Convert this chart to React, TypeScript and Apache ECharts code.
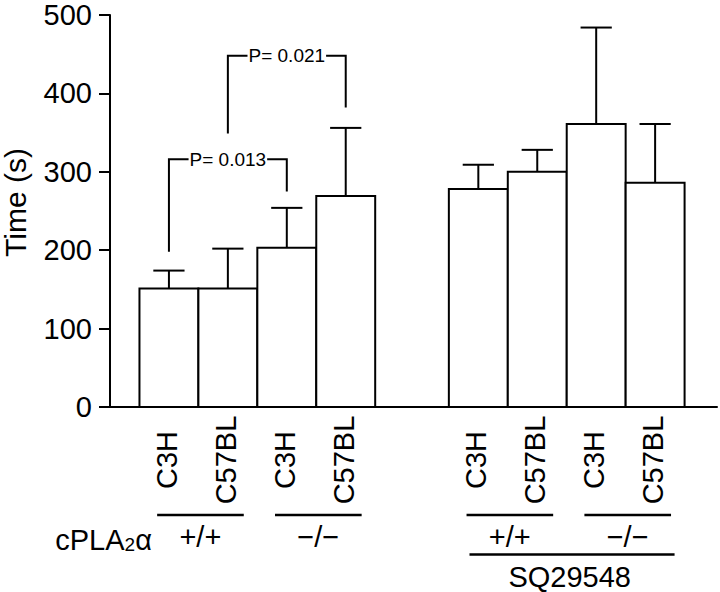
import React, { useEffect, useRef } from 'react';
import * as echarts from 'echarts';

// ---- data ----
const categories = ['C3H', 'C57BL', 'C3H', 'C57BL', 'C3H', 'C57BL', 'C3H', 'C57BL'];
const meanTime = [151, 151, 203, 269, 278, 300, 361, 286];
const errorTop = [174, 202, 254, 356, 309, 328, 484, 361];
const yTicks = [0, 100, 200, 300, 400, 500];
const genotypeGroups = [
  { label: '+/+', first: 0, last: 1 },
  { label: '\u2212/\u2212', first: 2, last: 3 },
  { label: '+/+', first: 4, last: 5 },
  { label: '\u2212/\u2212', first: 6, last: 7 },
];
const treatmentGroups = [{ label: 'SQ29548', first: 4, last: 7 }];
const comparisons = [
  { from: 0, to: 2, fromEnd: 198, toEnd: 275, top: 316, text: 'P= 0.013' },
  { from: 1, to: 3, fromEnd: 349, toEnd: 382, top: 448, text: 'P= 0.021' },
];

// slot positions along the x value axis (second block separated by a gap)
const GROUP_GAP = 1.25;
const slotPos = categories.map((_, i) => i + 1 + (i >= 4 ? GROUP_GAP : 0));

const FONT = '"Liberation Sans", Arial, Helvetica, sans-serif';

export default function App() {
  const ref = useRef<HTMLDivElement>(null);
  useEffect(() => {
    if (!ref.current) return;
    const chart = echarts.init(ref.current, undefined, { renderer: 'svg' });
    const black = '#000';
    const option: any = {
      animation: false,
      backgroundColor: '#fff',
      grid: { left: 110, right: 3, top: 15, bottom: 185, containLabel: false, outerBoundsMode: 'none' },
      xAxis: {
        type: 'value',
        min: 0,
        max: 10.3,
        axisLine: { show: true, lineStyle: { color: black, width: 2 } },
        axisTick: { show: false },
        axisLabel: { show: false },
        splitLine: { show: false },
      },
      yAxis: {
        type: 'value',
        min: yTicks[0],
        max: yTicks[yTicks.length - 1],
        interval: 100,
        name: 'Time (s)',
        nameLocation: 'middle',
        nameRotate: 90,
        nameGap: 80,
        nameTextStyle: { fontSize: 30, color: black, fontFamily: FONT, padding: [0, 0, 0, 17] },
        axisLine: { show: true, lineStyle: { color: black, width: 2 } },
        axisTick: { show: true, length: 11, lineStyle: { color: black, width: 2 } },
        axisLabel: { fontSize: 29, color: black, fontFamily: FONT, margin: 18 },
        splitLine: { show: false },
      },
      series: [
        {
          // bars (drawn through the axes' scales)
          type: 'custom',
          clip: false,
          z: 2,
          data: slotPos.map((x, i) => [x, meanTime[i]]),
          renderItem: (params: any, api: any) => {
            const unit = api.size([1, 0])[0];
            const top = api.coord([api.value(0), api.value(1)]);
            const base = api.coord([api.value(0), 0]);
            return {
              type: 'rect',
              shape: { x: top[0] - unit / 2, y: top[1], width: unit, height: base[1] - top[1] },
              style: { fill: '#fff', stroke: black, lineWidth: 2 },
            };
          },
        },
        {
          // error bars
          type: 'custom',
          clip: false,
          z: 3,
          data: slotPos.map((x, i) => [x, meanTime[i], errorTop[i]]),
          renderItem: (params: any, api: any) => {
            const base = api.coord([api.value(0), api.value(1)]);
            const top = api.coord([api.value(0), api.value(2)]);
            const half = api.size([1, 0])[0] * 0.265;
            return {
              type: 'group',
              children: [
                { type: 'line', shape: { x1: base[0], y1: base[1], x2: top[0], y2: top[1] }, style: { stroke: black, lineWidth: 2 } },
                { type: 'line', shape: { x1: top[0] - half, y1: top[1], x2: top[0] + half, y2: top[1] }, style: { stroke: black, lineWidth: 2 } },
              ],
            };
          },
        },
        {
          // significance brackets
          type: 'custom',
          clip: false,
          z: 4,
          data: comparisons.map((c) => [slotPos[c.from], c.top]),
          renderItem: (params: any, api: any) => {
            const c = comparisons[params.dataIndex];
            const p1 = api.coord([slotPos[c.from], c.fromEnd]);
            const p2 = api.coord([slotPos[c.from], c.top]);
            const p3 = api.coord([slotPos[c.to], c.top]);
            const p4 = api.coord([slotPos[c.to], c.toEnd]);
            return {
              type: 'group',
              children: [
                { type: 'polyline', shape: { points: [p1, p2, p3, p4] }, style: { stroke: black, lineWidth: 2, fill: 'none' } },
                {
                  type: 'text',
                  x: (p2[0] + p3[0]) / 2,
                  y: p2[1],
                  style: { text: c.text, font: `19px ${FONT}`, fill: black, align: 'center', verticalAlign: 'middle', backgroundColor: '#fff', padding: [0, 1] },
                },
              ],
            };
          },
        },
        {
          // strain labels under each bar
          type: 'custom',
          clip: false,
          z: 4,
          data: slotPos.map((x) => [x, 0]),
          renderItem: (params: any, api: any) => {
            const p = api.coord([api.value(0), 0]);
            return {
              type: 'text',
              x: p[0] - 2,
              y: p[1] + 53,
              rotation: Math.PI / 2,
              style: { text: categories[params.dataIndex], font: `29px ${FONT}`, fill: black, align: 'center', verticalAlign: 'middle' },
            };
          },
        },
        {
          // genotype groups
          type: 'custom',
          clip: false,
          z: 4,
          data: genotypeGroups.map((g) => [slotPos[g.first], 0]),
          renderItem: (params: any, api: any) => {
            const g = genotypeGroups[params.dataIndex];
            const unit = api.size([1, 0])[0];
            const a = api.coord([slotPos[g.first], 0]);
            const b = api.coord([slotPos[g.last], 0]);
            const children: any[] = [
              { type: 'line', shape: { x1: a[0] - 0.2 * unit, y1: a[1] + 108, x2: b[0] + 0.27 * unit, y2: a[1] + 108 }, style: { stroke: black, lineWidth: 2.5 } },
              { type: 'text', x: (a[0] + b[0]) / 2 + 2, y: a[1] + 130, style: { text: g.label, font: `29px ${FONT}`, fill: black, align: 'center', verticalAlign: 'middle' } },
            ];
            if (params.dataIndex === 0) {
              children.push({
                type: 'text',
                x: a[0] - 17,
                y: a[1] + 130,
                style: {
                  text: '{a|cPLA}{s|2}{a|α}',
                  align: 'right',
                  verticalAlign: 'middle',
                  rich: {
                    a: { font: `29px ${FONT}`, fill: black, color: black, verticalAlign: 'bottom', lineHeight: 34 },
                    s: { font: `19px ${FONT}`, fill: black, color: black, verticalAlign: 'bottom', lineHeight: 28 },
                  },
                },
              });
            }
            return { type: 'group', children };
          },
        },
        {
          // treatment group
          type: 'custom',
          clip: false,
          z: 4,
          data: treatmentGroups.map((g) => [slotPos[g.first], 0]),
          renderItem: (params: any, api: any) => {
            const g = treatmentGroups[params.dataIndex];
            const unit = api.size([1, 0])[0];
            const a = api.coord([slotPos[g.first], 0]);
            const b = api.coord([slotPos[g.last], 0]);
            return {
              type: 'group',
              children: [
                { type: 'line', shape: { x1: a[0] - 0.15 * unit, y1: a[1] + 147.5, x2: b[0] + 0.33 * unit, y2: a[1] + 147.5 }, style: { stroke: black, lineWidth: 2.5 } },
                { type: 'text', x: (a[0] + b[0]) / 2 + 3, y: a[1] + 170, style: { text: g.label, font: `29px ${FONT}`, fill: black, align: 'center', verticalAlign: 'middle' } },
              ],
            };
          },
        },
      ],
    };
    chart.setOption(option);
    return () => chart.dispose();
  }, []);
  return <div ref={ref} style={{ position: 'absolute', left: 0, top: 0, width: 720, height: 592 }} />;
}
